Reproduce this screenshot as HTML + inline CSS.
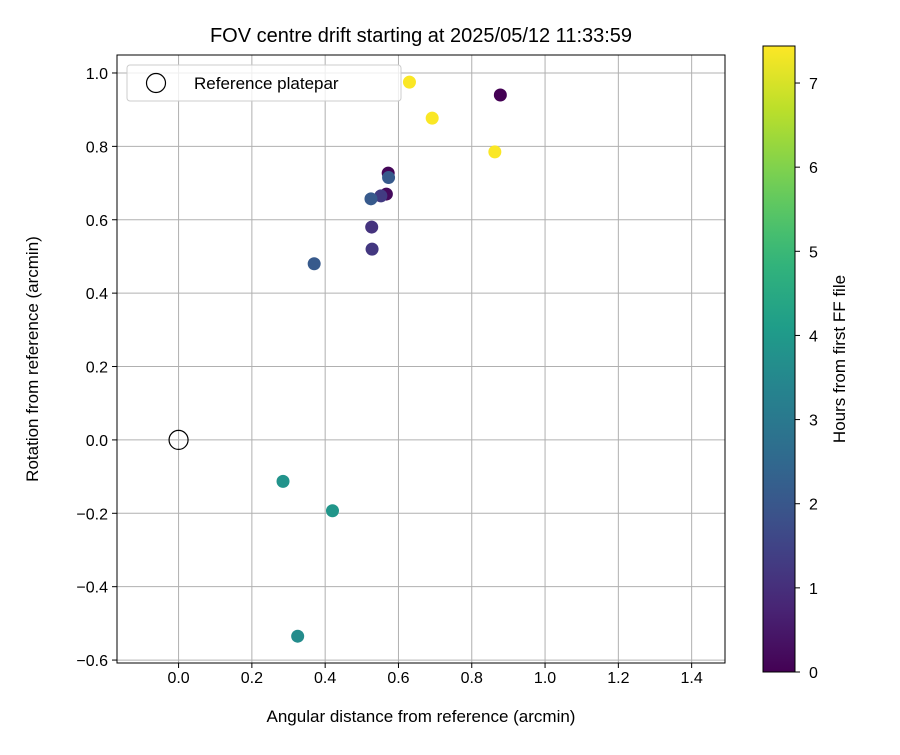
<!DOCTYPE html>
<html><head><meta charset="utf-8"><style>
body{margin:0;background:#fff;}
text{font-family:"Liberation Sans","DejaVu Sans",sans-serif;fill:#000;}
</style></head><body>
<svg id="chart" width="900" height="750" xmlns="http://www.w3.org/2000/svg"></svg>
<script>
const xVals=[0.63,0.692,0.863,0.878,0.572,0.567,0.552,0.573,0.525,0.527,0.528,0.37,0.285,0.42,0.325];
const yVals=[0.975,0.877,0.785,0.94,0.727,0.67,0.665,0.715,0.657,0.58,0.52,0.48,-0.113,-0.193,-0.535];
const hours=[7.4,7.4,7.4,0.0,0.1,0.2,1.3,2.1,2.1,1.1,1.2,2.1,3.8,3.9,3.6];
const xTicks=[0.0,0.2,0.4,0.6,0.8,1.0,1.2,1.4];
const yTicks=[-0.6,-0.4,-0.2,0.0,0.2,0.4,0.6,0.8,1.0];
const cTicks=[0,1,2,3,4,5,6,7];
const NS="http://www.w3.org/2000/svg",svg=document.getElementById('chart');
const L=117,R=725,T=55,B=663,xmin=-0.168,xmax=1.491,ymin=-0.608,ymax=1.049;
const sx=v=>L+(v-xmin)/(xmax-xmin)*(R-L), sy=v=>B-(v-ymin)/(ymax-ymin)*(B-T);
const CL=763,CR=795,CT=46,CB=672,cmax=7.44;
const sc=v=>CB-v/cmax*(CB-CT);
const vir=[[68,1,84],[72,40,120],[62,74,137],[49,104,142],[38,130,142],[31,158,137],[53,183,121],[110,206,88],[181,222,43],[253,231,37]];
function col(t){t=Math.max(0,Math.min(1,t));const p=t*9,i=Math.min(8,Math.floor(p)),f=p-i;const a=vir[i],b=vir[i+1];return `rgb(${a.map((c,k)=>Math.round(c+(b[k]-c)*f)).join(',')})`;}
function el(tag,at,txt){const e=document.createElementNS(NS,tag);for(const k in at)e.setAttribute(k,at[k]);if(txt!==undefined)e.textContent=txt;svg.appendChild(e);return e;}
// grid
xTicks.forEach(v=>{const g=el('line',{x1:sx(v),x2:sx(v),y1:T,y2:B,stroke:'#b0b0b0','stroke-width':1});});
yTicks.forEach(v=>{const g=el('line',{x1:L,x2:R,y1:sy(v),y2:sy(v),stroke:'#b0b0b0','stroke-width':1});});
// points
xVals.forEach((x,i)=>{const c=el('circle',{cx:sx(x),cy:sy(yVals[i]),r:6.5,fill:col(hours[i]/cmax)});});
const ref=el('circle',{cx:sx(0),cy:sy(0),r:9.5,fill:'none',stroke:'#000','stroke-width':1.2});

const fr=el('rect',{x:L,y:T,width:R-L,height:B-T,fill:'none',stroke:'#000','stroke-width':1});

xTicks.forEach(v=>{el('line',{x1:sx(v),x2:sx(v),y1:B,y2:B+5,stroke:'#000'});const t=el('text',{x:sx(v),y:B+20,'text-anchor':'middle','font-size':16},v.toFixed(1));});
yTicks.forEach(v=>{el('line',{x1:L-5,x2:L,y1:sy(v),y2:sy(v),stroke:'#000'});const t=el('text',{x:L-9,y:sy(v)+6,'text-anchor':'end','font-size':16},(v<0?'\u2212':'')+Math.abs(v).toFixed(1));});
let t=el('text',{x:421,y:722,'text-anchor':'middle','font-size':17},'Angular distance from reference (arcmin)');
t=el('text',{x:0,y:0,'text-anchor':'middle','font-size':17,transform:'translate(38,359) rotate(-90)'},'Rotation from reference (arcmin)');
t=el('text',{x:421,y:42,'text-anchor':'middle','font-size':20},'FOV centre drift starting at 2025/05/12 11:33:59');
// legend
let lg=el('rect',{x:127,y:65,width:274,height:36,rx:3,fill:'#fff','fill-opacity':0.8,stroke:'#ccc'});
lg=el('circle',{cx:156,cy:83,r:9.5,fill:'none',stroke:'#000','stroke-width':1.2});
lg=el('text',{x:194,y:89,'font-size':17},'Reference platepar');
// colorbar
const defs=el('defs',{});const gr=document.createElementNS(NS,'linearGradient');gr.setAttribute('id','vg');gr.setAttribute('x1','0');gr.setAttribute('y1','1');gr.setAttribute('x2','0');gr.setAttribute('y2','0');
for(let i=0;i<=20;i++){const s=document.createElementNS(NS,'stop');s.setAttribute('offset',i/20);s.setAttribute('stop-color',col(i/20));gr.appendChild(s);}defs.appendChild(gr);
const cb=el('rect',{x:CL,y:CT,width:CR-CL,height:CB-CT,fill:'url(#vg)',stroke:'#000','stroke-width':1});
cTicks.forEach(v=>{el('line',{x1:CR,x2:CR+5,y1:sc(v),y2:sc(v),stroke:'#000'});const tt=el('text',{x:CR+14,y:sc(v)+6,'font-size':16},String(v));});
t=el('text',{x:0,y:0,'text-anchor':'middle','font-size':17,transform:'translate(845,359) rotate(-90)'},'Hours from first FF file');
</script>
</body></html>
